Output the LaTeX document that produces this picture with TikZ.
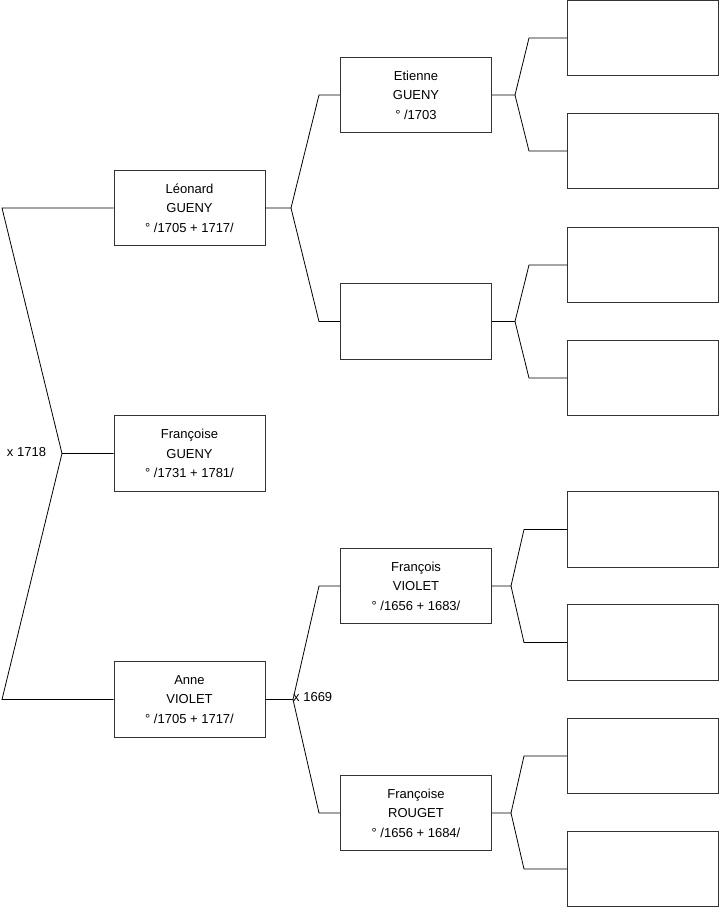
\documentclass[tikz,border=0pt]{standalone}
\usepackage{fontspec}
\setmainfont{Liberation Sans}
\begin{document}
\begin{tikzpicture}[x=1pt,y=-1pt,
  person/.style={draw=black!80,line width=0.9pt,rectangle,minimum width=151pt,minimum height=75.5pt,inner sep=0pt,align=center,font=\fontsize{13}{19.5}\selectfont},
  link/.style={draw=black,line width=0.8pt},
  lbl/.style={font=\fontsize{13}{15}\selectfont,inner sep=0pt}]
\useasboundingbox (0,0) rectangle (719,908);
% first column
\node[person] (L) at (189.5,208) {Léonard\\GUENY\\° /1705 + 1717/};
\node[person] (FG) at (189.5,453.5) {Françoise\\GUENY\\° /1731 + 1781/};
\node[person] (A) at (189.5,699.5) {Anne\\VIOLET\\° /1705 + 1717/};
% second column
\node[person] (E) at (416,95) {Etienne\\GUENY\\° /1703};
\node[person] (X2) at (416,321.5) {};
\node[person] (FV) at (416,586) {François\\VIOLET\\° /1656 + 1683/};
\node[person] (FR) at (416,813) {Françoise\\ROUGET\\° /1656 + 1684/};
% third column
\node[person] (R1) at (643,38) {};
\node[person] (R2) at (643,151) {};
\node[person] (R3) at (643,265) {};
\node[person] (R4) at (643,378) {};
\node[person] (R5) at (643,529.5) {};
\node[person] (R6) at (643,642.5) {};
\node[person] (R7) at (643,756) {};
\node[person] (R8) at (643,869) {};
% junctions
\coordinate (j0) at (62,453.5);
\coordinate (j0a) at (2,208);
\coordinate (j0b) at (2,699.5);
\coordinate (j1) at (291,208);
\coordinate (j1a) at (319,95);
\coordinate (j1b) at (319,321.5);
\coordinate (j2) at (293,699.5);
\coordinate (j2a) at (319,586);
\coordinate (j2b) at (319,813);
\coordinate (j3) at (515,95);
\coordinate (j3a) at (529,38);
\coordinate (j3b) at (529,151);
\coordinate (j4) at (515,321.5);
\coordinate (j4a) at (529,265);
\coordinate (j4b) at (529,378);
\coordinate (j5) at (511,586);
\coordinate (j5a) at (524,529.5);
\coordinate (j5b) at (524,642.5);
\coordinate (j6) at (511,813);
\coordinate (j6a) at (524,756);
\coordinate (j6b) at (524,869);
% connectors
\draw[link] (FG.west) -- (j0) -- (j0a) -- (L.west);
\draw[link] (j0) -- (j0b) -- (A.west);
\draw[link] (L.east) -- (j1) -- (j1a) -- (E.west);
\draw[link] (j1) -- (j1b) -- (X2.west);
\draw[link] (A.east) -- (j2) -- (j2a) -- (FV.west);
\draw[link] (j2) -- (j2b) -- (FR.west);
\draw[link] (E.east) -- (j3) -- (j3a) -- (R1.west);
\draw[link] (j3) -- (j3b) -- (R2.west);
\draw[link] (X2.east) -- (j4) -- (j4a) -- (R3.west);
\draw[link] (j4) -- (j4b) -- (R4.west);
\draw[link] (FV.east) -- (j5) -- (j5a) -- (R5.west);
\draw[link] (j5) -- (j5b) -- (R6.west);
\draw[link] (FR.east) -- (j6) -- (j6a) -- (R7.west);
\draw[link] (j6) -- (j6b) -- (R8.west);
% labels
\node[lbl] (m1) at (26.5,452) {x 1718};
\node[lbl,anchor=west] (m2) at (293,697.5) {x 1669};
\end{tikzpicture}
\end{document}
